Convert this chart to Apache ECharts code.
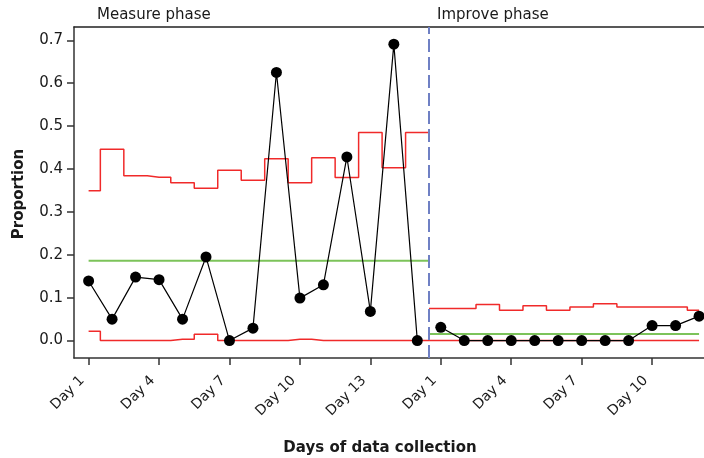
<!DOCTYPE html>
<html>
<head>
<meta charset="utf-8">
<script src="https://cdn.jsdelivr.net/npm/echarts@6/dist/echarts.min.js"></script>
<style>
html, body { margin: 0; padding: 0; background: #fff; }
#main { width: 704px; height: 458px; }
</style>
</head>
<body>
<div id="main"></div>
<script>
// measure phase, 15 days
var measureDays = ['Day 1','Day 2','Day 3','Day 4','Day 5','Day 6','Day 7','Day 8','Day 9','Day 10','Day 11','Day 12','Day 13','Day 14','Day 15']
var measureP = [0.139, 0.050, 0.148, 0.142, 0.050, 0.195, 0, 0.029, 0.625, 0.099, 0.130, 0.428, 0.068, 0.691, 0]
var measureUCL = [0.349, 0.446, 0.384, 0.381, 0.368, 0.355, 0.397, 0.374, 0.424, 0.368, 0.426, 0.380, 0.485, 0.403, 0.485]
var measureLCL = [0.022, 0, 0, 0, 0.003, 0.015, 0, 0, 0, 0.003, 0, 0, 0, 0, 0]
var measureCL = 0.186

// improve phase, 12 days
var improveDays = ['Day 1','Day 2','Day 3','Day 4','Day 5','Day 6','Day 7','Day 8','Day 9','Day 10','Day 11','Day 12']
var improveP = [0.031, 0, 0, 0, 0, 0, 0, 0, 0, 0.035, 0.035, 0.057]
var improveUCL = [0.075, 0.075, 0.084, 0.071, 0.081, 0.071, 0.078, 0.086, 0.078, 0.078, 0.078, 0.071]
var improveLCL = [0, 0, 0, 0, 0, 0, 0, 0, 0, 0, 0, 0]
var improveCL = 0.0154

var xTicks = [0, 3, 6, 9, 12, 15, 18, 21, 24]
var yTicks = [0, 0.1, 0.2, 0.3, 0.4, 0.5, 0.6, 0.7]

var allDays = measureDays.concat(improveDays)
var split = measureDays.length - 0.5   // phase change between the two runs
var off = measureDays.length

var font = 'DejaVu Sans'
var red = '#f02a2a', green = '#7cc35a'
var xMin = -0.622, xMax = 26.21

// points of one phase
function pts(arr, start) {
	return arr.map(function (v, i) { return [start + i, v] })
}
// step limits, measure ends at the phase line, improve starts there
function limitMeasure(arr) {
	var d = pts(arr, 0)
	d.push([split, arr[arr.length - 1]])
	return d
}
function limitImprove(arr) {
	var d = pts(arr, off)
	d.unshift([split, arr[0]])
	return d
}
function stepSeries(data) {
	return {
		type: 'line', step: 'middle', data: data, symbol: 'none', silent: true,
		lineStyle: { color: red, width: 1.5 }, z: 2
	}
}

var option = {
	animation: false,
	grid: { left: 74, top: 27, right: 0, bottom: 100 },
	xAxis: [{
		type: 'value', min: xMin, max: xMax,
		splitLine: { show: false },
		axisLine: { onZero: false, lineStyle: { color: '#333', width: 1.5 } },
		axisTick: { customValues: xTicks, length: 7, lineStyle: { color: '#333', width: 1.5 } },
		axisLabel: {
			customValues: xTicks, rotate: 45, margin: 14, padding: [0, 9, 0, 0],
			fontFamily: font, fontSize: 14, color: '#1a1a1a',
			formatter: function (v) { return allDays[Math.round(v)] }
		}
	}, {
		// top frame line only, the right side is cut off in the picture
		type: 'value', position: 'top', min: xMin, max: xMax,
		splitLine: { show: false }, axisTick: { show: false }, axisLabel: { show: false },
		axisLine: { show: true, onZero: false, lineStyle: { color: '#222', width: 1.5 } }
	}],
	yAxis: {
		type: 'value', min: -0.0406, max: 0.731,
		splitLine: { show: false },
		axisLine: { show: true, onZero: false, lineStyle: { color: '#333', width: 1.5 } },
		axisTick: { show: true, customValues: yTicks, length: 7, lineStyle: { color: '#333', width: 1.5 } },
		axisLabel: {
			customValues: yTicks, margin: 11,
			fontFamily: font, fontSize: 15, color: '#1a1a1a',
			formatter: function (v) { return v.toFixed(1) }
		}
	},
	graphic: [
		{ type: 'text', left: 97, top: 8, style: { text: 'Measure phase', font: '15px "DejaVu Sans"', fill: '#1a1a1a' } },
		{ type: 'text', left: 437, top: 8, style: { text: 'Improve phase', font: '15px "DejaVu Sans"', fill: '#1a1a1a' } },
		{ type: 'text', x: 19, y: 194, rotation: Math.PI / 2, style: { text: 'Proportion', font: 'bold 15px "DejaVu Sans"', fill: '#1a1a1a', align: 'center', verticalAlign: 'middle' } },
		{ type: 'text', x: 380, y: 448, style: { text: 'Days of data collection', font: 'bold 15px "DejaVu Sans"', fill: '#1a1a1a', align: 'center', verticalAlign: 'middle' } }
	],
	series: [
		stepSeries(limitMeasure(measureUCL)),
		stepSeries(limitMeasure(measureLCL)),
		stepSeries(limitImprove(improveUCL)),
		stepSeries(limitImprove(improveLCL)),
		{
			type: 'line', symbol: 'none', silent: true, z: 3,
			data: [[0, measureCL], [split, measureCL]],
			lineStyle: { color: green, width: 2 }
		},
		{
			type: 'line', symbol: 'none', silent: true, z: 3,
			data: [[split, improveCL], [off + improveDays.length - 1, improveCL]],
			lineStyle: { color: green, width: 2 },
			markLine: {
				silent: true, symbol: 'none', label: { show: false },
				lineStyle: { color: '#6f80c4', width: 2, type: [13, 5] },
				data: [{ xAxis: split }]
			}
		},
		{
			type: 'line', data: pts(measureP, 0), z: 5,
			symbol: 'circle', symbolSize: 11,
			itemStyle: { color: '#000' }, lineStyle: { color: '#000', width: 1.2 }
		},
		{
			type: 'line', data: pts(improveP, off), z: 5,
			symbol: 'circle', symbolSize: 11,
			itemStyle: { color: '#000' }, lineStyle: { color: '#000', width: 1.2 }
		}
	]
}

var myChart = echarts.init(document.getElementById('main'))
myChart.setOption(option)
</script>
</body>
</html>
